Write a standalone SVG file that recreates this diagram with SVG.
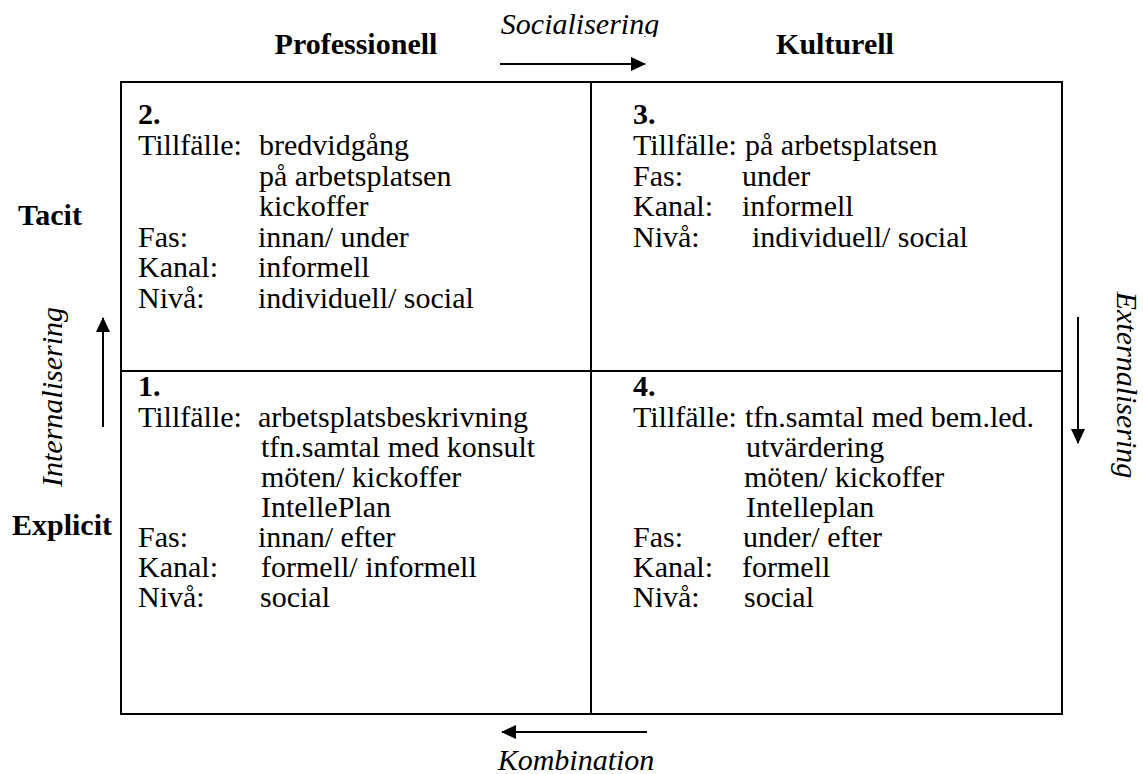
<svg xmlns="http://www.w3.org/2000/svg" width="1143" height="774" viewBox="0 0 1143 774">
<style>
text{font-family:"Liberation Serif","Times New Roman",serif;font-size:30px;fill:#000}
.b{font-weight:bold}
.i{font-style:italic}
.ln{stroke:#000;stroke-width:2;fill:none}
.ar{stroke:#000;stroke-width:2;fill:none}
</style>
<defs>
<marker id="ah" viewBox="0 0 15 14" refX="14" refY="7" markerWidth="15" markerHeight="14" markerUnits="userSpaceOnUse" orient="auto">
<path d="M0,0 L15,7 L0,14 z" fill="#000"/>
</marker>
<clipPath id="clipTop"><rect x="0" y="0" width="1143" height="37"/></clipPath>
</defs>
<rect width="1143" height="774" fill="#fff"/>

<g id="grid">
<rect class="ln" x="121" y="82" width="941" height="632"/>
<line class="ln" x1="591" y1="82" x2="591" y2="714"/>
<line class="ln" x1="121" y1="371" x2="1062" y2="371"/>
</g>

<g id="headers">
<text class="b" x="356" y="54" text-anchor="middle">Professionell</text>
<text class="b" x="835" y="54" text-anchor="middle">Kulturell</text>
<text class="b" x="18" y="225">Tacit</text>
<text class="b" x="12" y="535">Explicit</text>
</g>

<g id="connectors">
<line class="ar" x1="500" y1="64" x2="645" y2="64" marker-end="url(#ah)"/>
<line class="ar" x1="647" y1="732" x2="502" y2="732" marker-end="url(#ah)"/>
<line class="ar" x1="103" y1="427" x2="103" y2="318" marker-end="url(#ah)"/>
<line class="ar" x1="1078" y1="317" x2="1078" y2="443" marker-end="url(#ah)"/>
</g>

<g id="labels">
<text class="i" x="580" y="34" text-anchor="middle" clip-path="url(#clipTop)">Socialisering</text>
<text class="i" x="576" y="770" text-anchor="middle">Kombination</text>
<text class="i" transform="translate(62,397) rotate(-90)" text-anchor="middle">Internalisering</text>
<text class="i" transform="translate(1117,385) rotate(90)" text-anchor="middle">Externalisering</text>
</g>

<g id="q2">
<text class="b" x="138" y="124">2.</text>
<text x="138" y="155">Tillfälle:</text>
<text x="259" y="155">bredvidgång</text>
<text x="259" y="185.5">på arbetsplatsen</text>
<text x="259" y="216">kickoffer</text>
<text x="138" y="246.5">Fas:</text>
<text x="258" y="246.5">innan/ under</text>
<text x="138" y="277">Kanal:</text>
<text x="258" y="277">informell</text>
<text x="138" y="307.5">Nivå:</text>
<text x="258" y="307.5">individuell/ social</text>
</g>

<g id="q3">
<text class="b" x="633" y="124">3.</text>
<text x="633" y="155">Tillfälle:</text>
<text x="745" y="155">på arbetsplatsen</text>
<text x="633" y="185.5">Fas:</text>
<text x="742" y="185.5">under</text>
<text x="633" y="216">Kanal:</text>
<text x="742" y="216">informell</text>
<text x="633" y="246.5">Nivå:</text>
<text x="752" y="246.5">individuell/ social</text>
</g>

<g id="q1">
<text class="b" x="138" y="396">1.</text>
<text x="138" y="427">Tillfälle:</text>
<text x="258" y="427">arbetsplatsbeskrivning</text>
<text x="261" y="457">tfn.samtal med konsult</text>
<text x="261" y="487">möten/ kickoffer</text>
<text x="261" y="517">IntellePlan</text>
<text x="138" y="547">Fas:</text>
<text x="258" y="547">innan/ efter</text>
<text x="138" y="577">Kanal:</text>
<text x="261" y="577">formell/ informell</text>
<text x="138" y="607">Nivå:</text>
<text x="260" y="607">social</text>
</g>

<g id="q4">
<text class="b" x="633" y="396">4.</text>
<text x="633" y="427">Tillfälle:</text>
<text x="745" y="427">tfn.samtal med bem.led.</text>
<text x="746" y="457">utvärdering</text>
<text x="744" y="487">möten/ kickoffer</text>
<text x="746" y="517">Intelleplan</text>
<text x="633" y="547">Fas:</text>
<text x="743" y="547">under/ efter</text>
<text x="633" y="577">Kanal:</text>
<text x="742" y="577">formell</text>
<text x="633" y="607">Nivå:</text>
<text x="744" y="607">social</text>
</g>
</svg>
